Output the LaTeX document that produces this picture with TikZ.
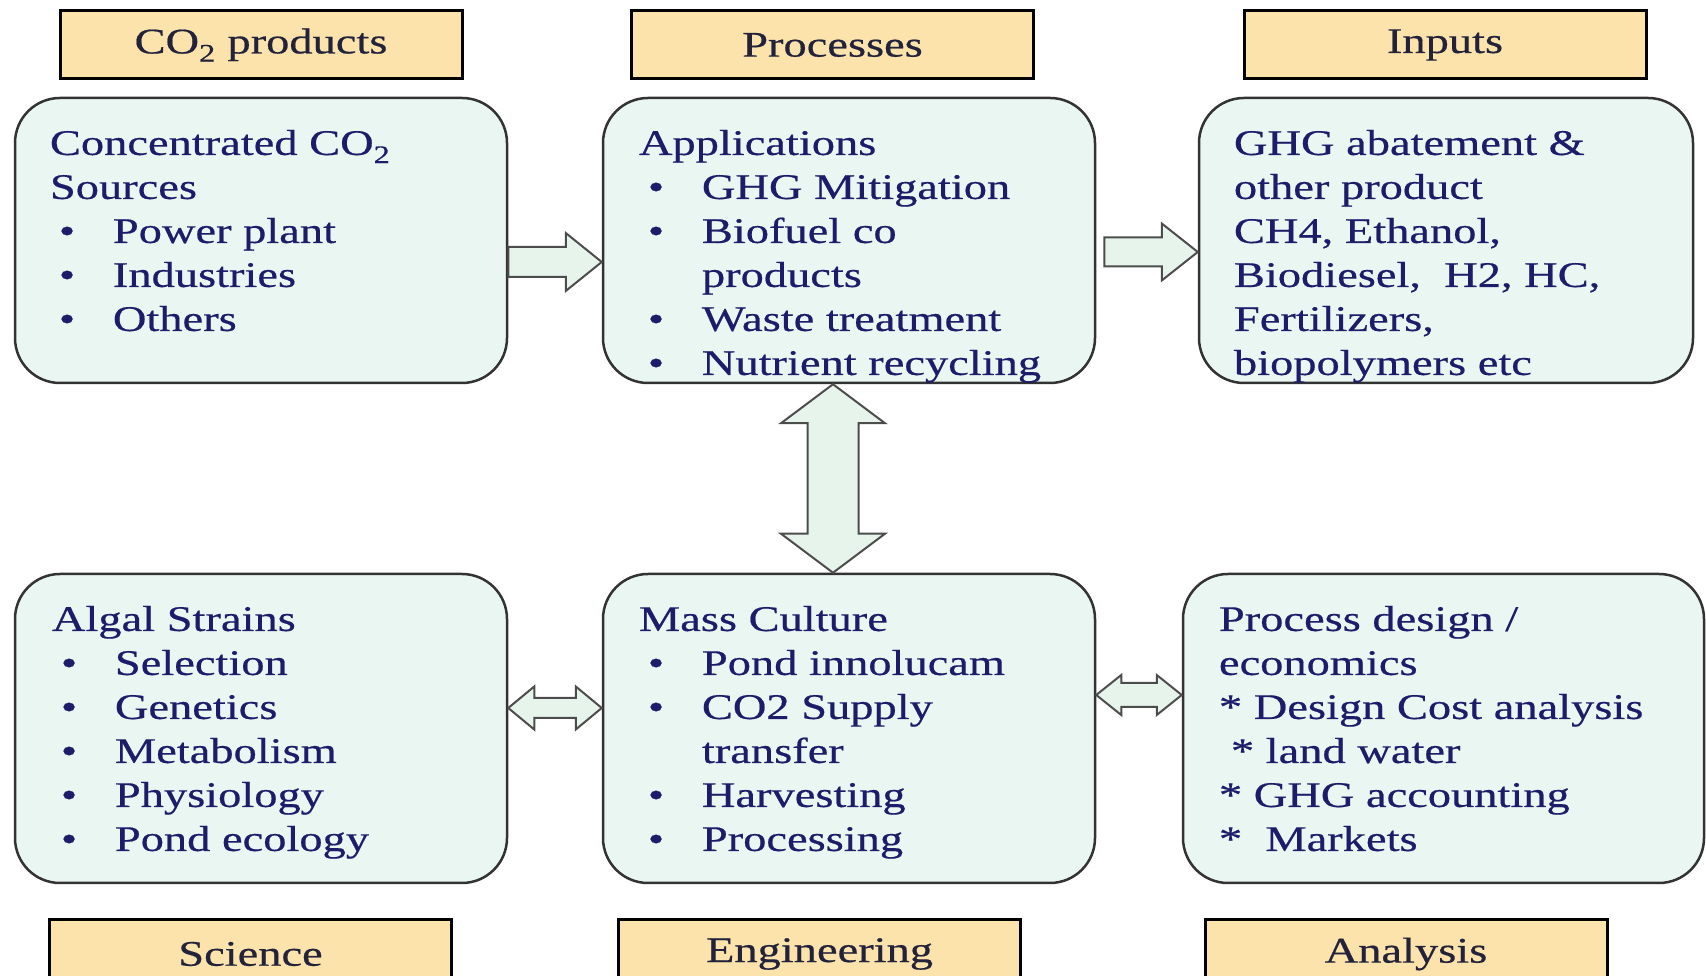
\documentclass[tikz,border=0pt]{standalone}
\usepackage{fontspec}
\setmainfont{Liberation Serif}[FakeStretch=1.29, FakeBold=0.5]
\usetikzlibrary{calc}

\definecolor{panelfill}{HTML}{EAF6F2}
\definecolor{tagfill}{HTML}{FCE3AB}
\definecolor{inktext}{HTML}{1C1C6A}
\definecolor{tagtext}{HTML}{22223A}
\definecolor{arrowfill}{HTML}{E6F4EC}

\tikzset{
  tag/.style={draw=black, line width=3pt, fill=tagfill, minimum width=402pt, minimum height=68pt, inner sep=0pt, text=tagtext, font=\fontsize{36}{44}\selectfont},
  panel/.style={draw=black!80, line width=2.5pt, fill=panelfill, rounded corners=45pt, minimum width=492pt, minimum height=285pt, inner sep=0pt},
  paneltext/.style={anchor=north west, align=left, inner sep=0pt, text=inktext, font=\fontsize{36}{44}\selectfont},
  fatarrow/.style={draw=black!70, line width=2pt, fill=arrowfill, line join=miter}
}
\newcommand{\itm}[1]{\hspace*{9pt}\makebox[54pt][l]{\textbullet}#1}

\begin{document}
\begin{tikzpicture}[x=1pt, y=1pt]
  \useasboundingbox (0,0) rectangle (1706,976);

  % headings
  \node[tag] (prod) at (261,931) {CO\textsubscript{2} products};
  \node[tag] (proc) at (832.5,931) {Processes};
  \node[tag] (inp) at (1445,931) {Inputs};
  \node[tag] (sci) at (250.5,22) {Science};
  \node[tag] (eng) at (819.5,22) {Engineering};
  \node[tag] (ana) at (1406,22) {Analysis};

  % panels
  \node[panel] (src) at (261,735.5) {};
  \node[panel] (app) at (849,735.5) {};
  \node[panel, minimum width=494pt] (ghg) at (1446,735.5) {};
  \node[panel, minimum height=309pt] (alg) at (261,247.5) {};
  \node[panel, minimum height=309pt] (mass) at (849,247.5) {};
  \node[panel, minimum width=521pt, minimum height=309pt] (des) at (1443.5,247.5) {};

  \node[paneltext] (srctxt) at ([xshift=36pt, yshift=-33pt]src.north west)
    {Concentrated CO\textsubscript{2}\\Sources\\\itm{Power plant}\\\itm{Industries}\\\itm{Others}};
  \node[paneltext] (apptxt) at ([xshift=37pt, yshift=-33pt]app.north west)
    {Applications\\\itm{GHG Mitigation}\\\itm{Biofuel co}\\\hspace*{63pt}products\\\itm{Waste treatment}\\\itm{Nutrient recycling}};
  \node[paneltext] (ghgtxt) at ([xshift=36pt, yshift=-33pt]ghg.north west)
    {GHG abatement \&\\other product\\CH4, Ethanol,\\Biodiesel,\ \ H2, HC,\\Fertilizers,\\biopolymers etc};
  \node[paneltext] (algtxt) at ([xshift=38pt, yshift=-33pt]alg.north west)
    {Algal Strains\\\itm{Selection}\\\itm{Genetics}\\\itm{Metabolism}\\\itm{Physiology}\\\itm{Pond ecology}};
  \node[paneltext] (masstxt) at ([xshift=37pt, yshift=-33pt]mass.north west)
    {Mass Culture\\\itm{Pond innolucam}\\\itm{CO2 Supply}\\\hspace*{63pt}transfer\\\itm{Harvesting}\\\itm{Processing}};
  \node[paneltext] (destxt) at ([xshift=37pt, yshift=-33pt]des.north west)
    {Process design /\\economics\\* Design Cost analysis\\\hspace*{12pt}* land water\\* GHG accounting\\*\ \ Markets};

  % block arrows
  \draw[fatarrow] let \p1=([yshift=-21.5pt]src.east), \p2=([yshift=-21.5pt]app.west) in
    (\x1,\y1+15pt) -- (\x2-36pt,\y1+15pt) -- (\x2-36pt,\y1+29pt) -- (\x2,\y1)
    -- (\x2-36pt,\y1-29pt) -- (\x2-36pt,\y1-15pt) -- (\x1,\y1-15pt) -- cycle;
  \draw[fatarrow] let \p1=([xshift=8pt, yshift=-11.5pt]app.east), \p2=([yshift=-11.5pt]ghg.west) in
    (\x1,\y1+14.5pt) -- (\x2-36pt,\y1+14.5pt) -- (\x2-36pt,\y1+28.5pt) -- (\x2,\y1)
    -- (\x2-36pt,\y1-28.5pt) -- (\x2-36pt,\y1-14.5pt) -- (\x1,\y1-14.5pt) -- cycle;
  \draw[fatarrow] let \p1=([xshift=-16pt]app.south), \p2=([xshift=-16pt]mass.north) in
    (\x1,\y1) -- (\x1+52pt,\y1-39pt) -- (\x1+25.5pt,\y1-39pt) -- (\x1+25.5pt,\y2+39pt)
    -- (\x1+52pt,\y2+39pt) -- (\x1,\y2) -- (\x1-52pt,\y2+39pt) -- (\x1-25.5pt,\y2+39pt)
    -- (\x1-25.5pt,\y1-39pt) -- (\x1-52pt,\y1-39pt) -- cycle;
  \draw[fatarrow] let \p1=([yshift=20.5pt]alg.east), \p2=([yshift=20.5pt]mass.west) in
    (\x1,\y1) -- (\x1+26pt,\y1+21.5pt) -- (\x1+26pt,\y1+10pt) -- (\x2-26pt,\y1+10pt)
    -- (\x2-26pt,\y1+21.5pt) -- (\x2,\y1) -- (\x2-26pt,\y1-21.5pt) -- (\x2-26pt,\y1-10pt)
    -- (\x1+26pt,\y1-10pt) -- (\x1+26pt,\y1-21.5pt) -- cycle;
  \draw[fatarrow] let \p1=([yshift=33.5pt]mass.east), \p2=([yshift=33.5pt]des.west) in
    (\x1,\y1) -- (\x1+25pt,\y1+20pt) -- (\x1+25pt,\y1+12pt) -- (\x2-25pt,\y1+12pt)
    -- (\x2-25pt,\y1+20pt) -- (\x2,\y1) -- (\x2-25pt,\y1-20pt) -- (\x2-25pt,\y1-12pt)
    -- (\x1+25pt,\y1-12pt) -- (\x1+25pt,\y1-20pt) -- cycle;
\end{tikzpicture}
\end{document}
